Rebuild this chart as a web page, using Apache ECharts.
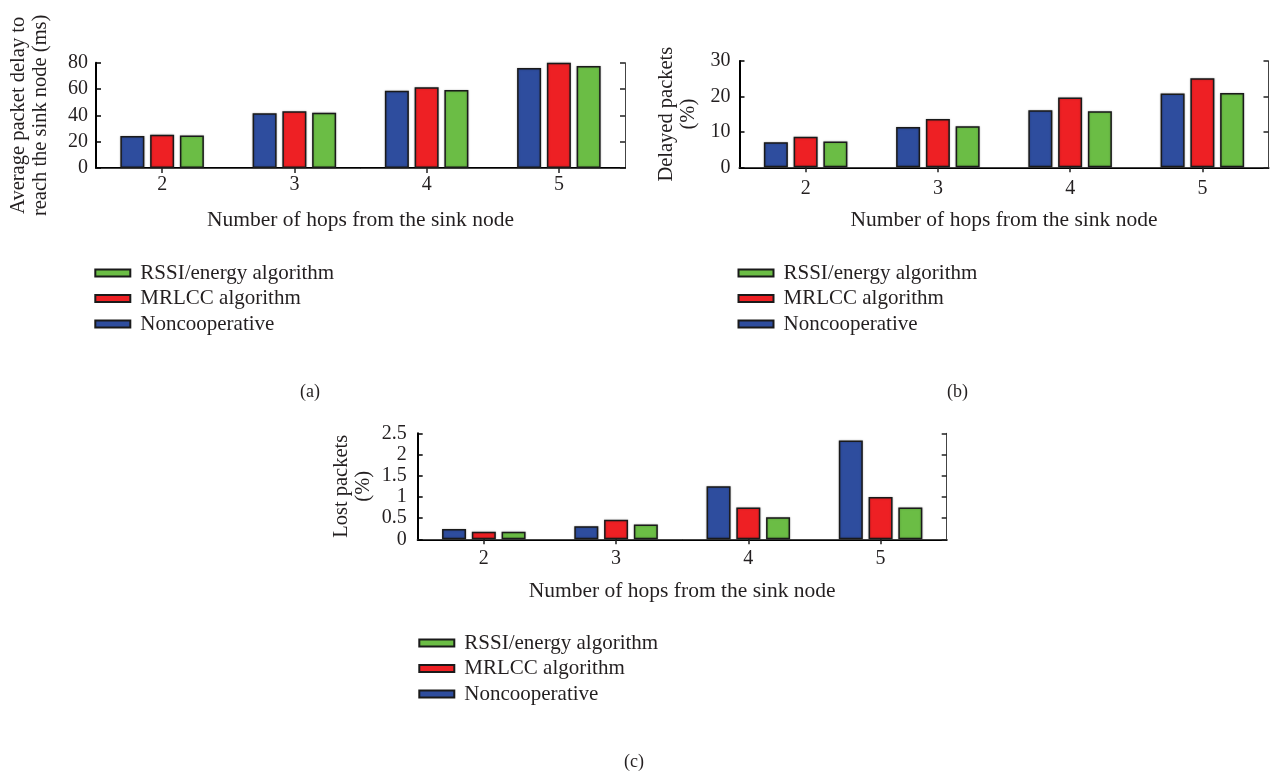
<!DOCTYPE html>
<html>
<head>
<meta charset="utf-8">
<script src="https://cdn.jsdelivr.net/npm/echarts@6/dist/echarts.min.js"></script>
<style>
html,body{margin:0;padding:0;background:#fff;}
#c{width:1271px;height:774px;}
</style>
</head>
<body>
<div id="c"></div>
<script>
// ---- data ----
const categories = ['2', '3', '4', '5'];
const seriesNames = ['Noncooperative', 'MRLCC algorithm', 'RSSI/energy algorithm'];
const legendOrder = ['RSSI/energy algorithm', 'MRLCC algorithm', 'Noncooperative'];

const delayNon   = [24.3, 41.6, 58.6, 76.0];
const delayMrlcc = [25.3, 43.1, 61.4, 80.0];
const delayRssi  = [24.7, 42.0, 59.3, 77.5];

const delayedNon   = [7.1, 11.4, 16.1, 20.8];
const delayedMrlcc = [8.6, 13.6, 19.7, 25.1];
const delayedRssi  = [7.3, 11.6, 15.8, 21.0];

const lostNon   = [0.24, 0.31, 1.25, 2.33];
const lostMrlcc = [0.18, 0.46, 0.75, 1.0];
const lostRssi  = [0.18, 0.35, 0.52, 0.75];

const xTitle = 'Number of hops from the sink node';
const yTitles = ['Average packet delay to\nreach the sink node (ms)', 'Delayed packets\n(%)', 'Lost packets\n(%)'];
const yRanges = [[0, 80, 20], [0, 30, 10], [0, 2.5, 0.5]];
const panelLabels = ['(a)', '(b)', '(c)'];

// ---- styling ----
const FONT = 'Liberation Serif';
const TXT = '#231f20';
const colors = ['#2e4d9e', '#ee2024', '#6bbd45'];

const grids = [
  {left: 96, top: 62.7, width: 529, height: 105.3},
  {left: 739.5, top: 61, width: 529, height: 106.3},
  {left: 417.7, top: 433.3, width: 529, height: 106}
];
const xLabelMargin = [7, 11, 9];
const xNameGap = [41, 42, 41];
const yLabelMargin = [8, 9, 11];
const yNameGap = [44, 40, 43];

const xAxes = [], yAxes = [], series = [];
const dataSets = [
  [delayNon, delayMrlcc, delayRssi],
  [delayedNon, delayedMrlcc, delayedRssi],
  [lostNon, lostMrlcc, lostRssi]
];

grids.forEach((g, i) => {
  xAxes.push({
    type: 'category', gridIndex: i, data: categories, position: 'bottom',
    axisLine: {show: true, lineStyle: {color: '#000', width: 2}},
    axisTick: {show: true, inside: true, alignWithLabel: true, length: 5, lineStyle: {color: '#000'}},
    axisLabel: {color: TXT, fontFamily: FONT, fontSize: 20, margin: xLabelMargin[i]},
    name: xTitle, nameLocation: 'middle', nameGap: xNameGap[i],
    nameTextStyle: {color: TXT, fontFamily: FONT, fontSize: 21.5},
    splitLine: {show: false}
  });
  xAxes.push({
    type: 'category', gridIndex: i, data: categories, position: 'top',
    axisLine: {show: true, lineStyle: {color: '#444', width: 1}},
    axisTick: {show: true, inside: true, alignWithLabel: true, length: 5, lineStyle: {color: '#222', width: 1.5}},
    axisLabel: {show: false}, splitLine: {show: false}
  });
  const r = yRanges[i];
  yAxes.push({
    type: 'value', gridIndex: i, min: r[0], max: r[1], interval: r[2], position: 'left',
    axisLine: {show: true, lineStyle: {color: '#000', width: 2}},
    axisTick: {show: true, inside: true, length: 5, lineStyle: {color: '#000', width: 1.5}},
    axisLabel: {color: TXT, fontFamily: FONT, fontSize: 20, margin: yLabelMargin[i]},
    splitLine: {show: false},
    name: yTitles[i], nameLocation: 'middle', nameRotate: 90, nameGap: yNameGap[i],
    nameTextStyle: {color: TXT, fontFamily: FONT, fontSize: 20.5, lineHeight: 22, align: 'center'}
  });
  yAxes.push({
    type: 'value', gridIndex: i, min: r[0], max: r[1], interval: r[2], position: 'right',
    axisLine: {show: true, lineStyle: {color: '#444', width: 1}},
    axisTick: {show: true, inside: true, length: 5, lineStyle: {color: '#222', width: 1.5}},
    axisLabel: {show: false}, splitLine: {show: false}
  });
  dataSets[i].forEach((vals, k) => {
    series.push({
      type: 'bar', name: seriesNames[k],
      xAxisIndex: i * 2, yAxisIndex: i * 2,
      data: vals, barWidth: 24, barGap: '24%',
      itemStyle: {color: colors[k], borderColor: '#1a1a1a', borderWidth: 1.5,
                  shadowColor: 'rgba(0,0,0,0.25)', shadowBlur: 2},
      emphasis: {disabled: true},
      animation: false
    });
  });
});

const legendPos = [
  {left: 94.3, top: 262.5},
  {left: 737.5, top: 262.5},
  {left: 418.3, top: 632.5}
];
const legends = legendPos.map(p => ({
  left: p.left, top: p.top, orient: 'vertical', padding: 0,
  data: legendOrder, icon: 'rect', itemWidth: 35, itemHeight: 7, itemGap: 4.5,
  selectedMode: false,
  textStyle: {color: TXT, fontFamily: FONT, fontSize: 21, lineHeight: 20, padding: [0, 0, 0, 5]}
}));

const labelPos = [[310, 392], [957, 392], [634, 762]];
const graphics = panelLabels.map((t, i) => ({
  type: 'text', left: labelPos[i][0] - 10, top: labelPos[i][1] - 9,
  style: {text: t, fill: TXT, font: '18px "Liberation Serif"'}
}));

const chart = echarts.init(document.getElementById('c'), null, {renderer: 'canvas'});
chart.setOption({
  backgroundColor: '#fff',
  animation: false,
  grid: grids,
  xAxis: xAxes,
  yAxis: yAxes,
  legend: legends,
  series: series,
  graphic: graphics
});
</script>
</body>
</html>
